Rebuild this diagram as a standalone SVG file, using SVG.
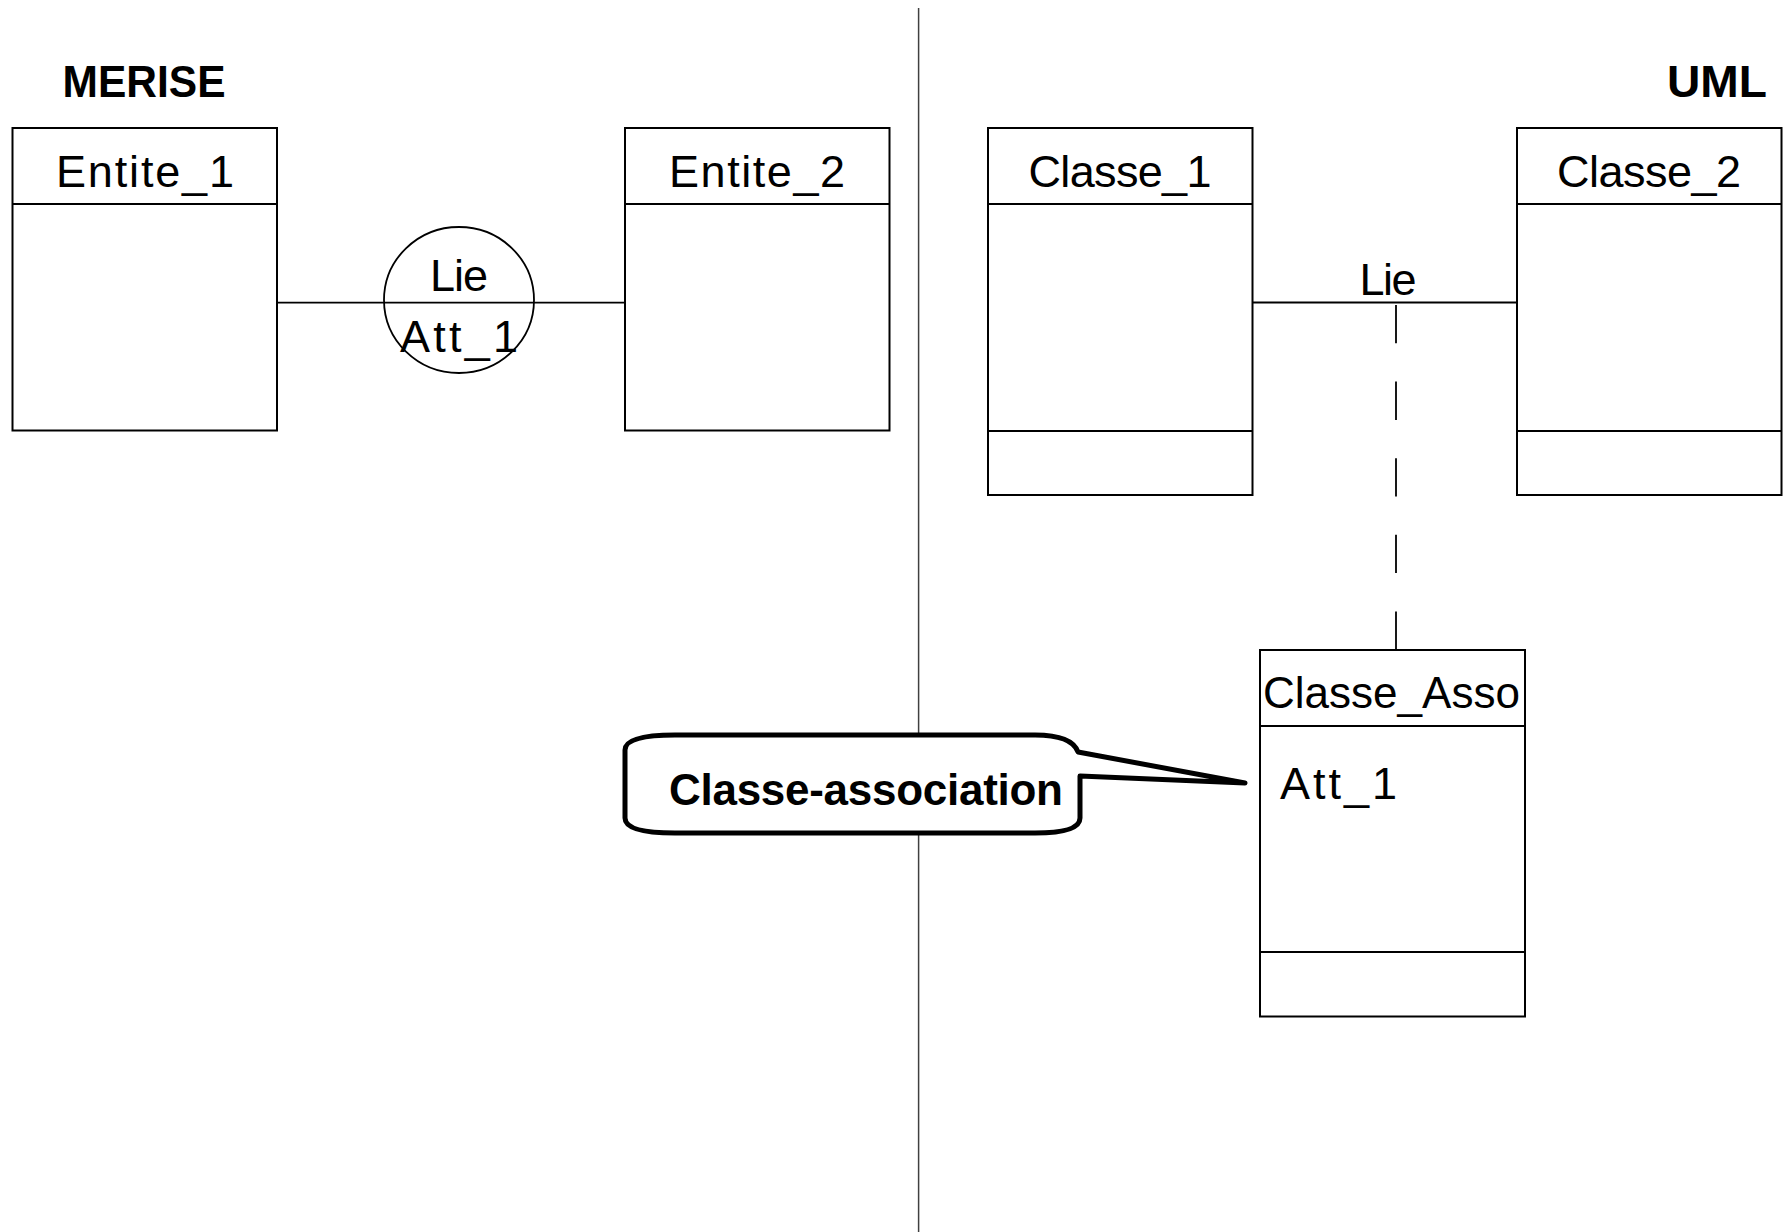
<svg xmlns="http://www.w3.org/2000/svg" width="1787" height="1232" viewBox="0 0 1787 1232">
<style>
.box{fill:#fff;stroke:#000;stroke-width:2}
.sep{stroke:#000;stroke-width:2}
.lbl{font-family:"Liberation Sans",Arial,sans-serif;font-size:45px;fill:#000}
.ttl{font-family:"Liberation Sans",Arial,sans-serif;font-size:44px;font-weight:bold;fill:#000}
.conn{stroke:#000;stroke-width:1.8;fill:none}
</style>
<rect width="1787" height="1232" fill="#fff"/>
<g id="divider"><line x1="918.6" y1="8" x2="918.6" y2="1232" stroke="#404040" stroke-width="1.5"/></g>
<g id="titles">
<text class="ttl" x="62.5" y="97" textLength="163" lengthAdjust="spacingAndGlyphs">MERISE</text>
<text class="ttl" x="1667" y="97" textLength="100" lengthAdjust="spacingAndGlyphs">UML</text>
</g>
<g id="connectors">
<line class="conn" x1="277" y1="302.6" x2="625" y2="302.6"/>
<line class="conn" x1="1252.5" y1="302.5" x2="1517" y2="302.5"/>
<line class="conn" x1="1396" y1="305" x2="1396" y2="650" stroke-dasharray="38.3 38.3"/>
</g>
<g id="entite1">
<rect class="box" x="12.5" y="128" width="264.5" height="302.5"/>
<line class="sep" x1="12.5" y1="204" x2="277" y2="204"/>
<text class="lbl" x="145" y="187" text-anchor="middle" textLength="178">Entite_1</text>
</g>
<g id="entite2">
<rect class="box" x="625" y="128" width="264.5" height="302.5"/>
<line class="sep" x1="625" y1="204" x2="889.5" y2="204"/>
<text class="lbl" x="757" y="187" text-anchor="middle" textLength="176">Entite_2</text>
</g>
<g id="association-lie">
<ellipse cx="459" cy="300" rx="75" ry="73" fill="none" stroke="#000" stroke-width="1.8"/>
<text class="lbl" x="459" y="291" text-anchor="middle" textLength="58">Lie</text>
<text class="lbl" x="459" y="352" text-anchor="middle" textLength="118">Att_1</text>
</g>
<g id="classe1">
<rect class="box" x="988" y="128" width="264.5" height="367"/>
<line class="sep" x1="988" y1="204" x2="1252.5" y2="204"/>
<line class="sep" x1="988" y1="431" x2="1252.5" y2="431"/>
<text class="lbl" x="1120" y="187" text-anchor="middle" textLength="183">Classe_1</text>
</g>
<g id="classe2">
<rect class="box" x="1517" y="128" width="264.5" height="367"/>
<line class="sep" x1="1517" y1="204" x2="1781.5" y2="204"/>
<line class="sep" x1="1517" y1="431" x2="1781.5" y2="431"/>
<text class="lbl" x="1649" y="187" text-anchor="middle" textLength="184">Classe_2</text>
</g>
<g id="lie-uml">
<text class="lbl" x="1388" y="295" text-anchor="middle" textLength="57">Lie</text>
</g>
<g id="classe-asso">
<rect class="box" x="1260" y="650" width="265" height="366.5"/>
<line class="sep" x1="1260" y1="726" x2="1525" y2="726"/>
<line class="sep" x1="1260" y1="952" x2="1525" y2="952"/>
<text class="lbl" x="1263" y="708" textLength="257" lengthAdjust="spacingAndGlyphs">Classe_Asso</text>
<text class="lbl" x="1280" y="799" textLength="117">Att_1</text>
</g>
<g id="callout">
<path d="M 675,735 L 1035,735 Q 1072,735 1078,752 L 1245,783 L 1080,776 L 1080,818 Q 1080,833 1035,833 L 675,833 Q 625,833 625,818 L 625,750 Q 625,735 675,735 Z" fill="#fff" stroke="#000" stroke-width="5" stroke-linejoin="round"/>
<text class="ttl" x="866" y="805" text-anchor="middle" textLength="394">Classe-association</text>
</g>
</svg>
